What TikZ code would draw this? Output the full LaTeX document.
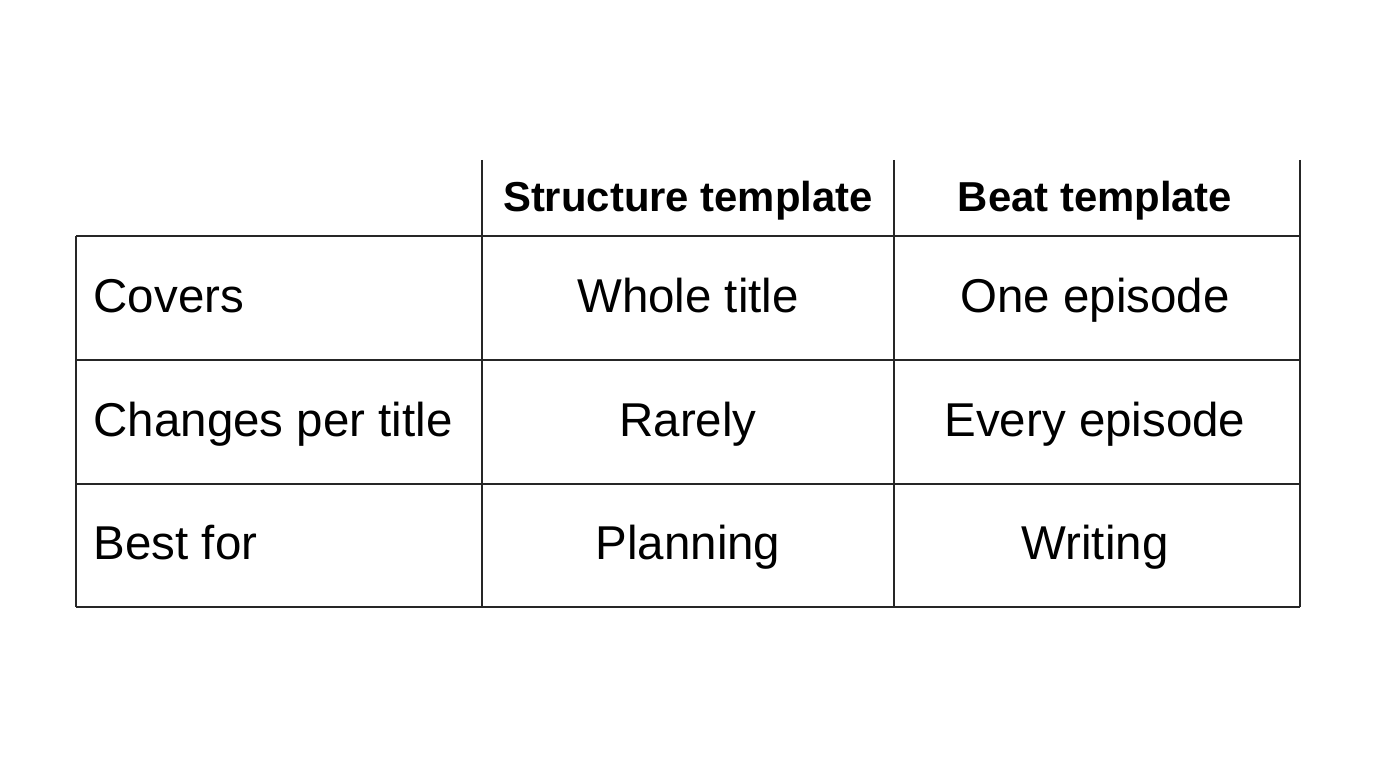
\documentclass[tikz,border=0pt]{standalone}
\usepackage{fontspec}
\setmainfont{Liberation Sans}
\usetikzlibrary{positioning}
\tikzset{
    grid/.style={draw=black!85, line width=0.5pt},
    head/.style={font=\fontsize{11.9}{14}\selectfont\bfseries, anchor=base},
    cell/.style={font=\fontsize{13.5}{16}\selectfont, anchor=base},
    rowhead/.style={font=\fontsize{13.5}{16}\selectfont, anchor=base west, inner sep=0pt},
}
\begin{document}
\begin{tikzpicture}[x=0.01cm, y=-0.01cm]
    \useasboundingbox (0,0) rectangle (1376,768);

    % grid
    \draw[grid] (76,236) -- (1300,236);
    \draw[grid] (76,360) -- (1300,360);
    \draw[grid] (76,484) -- (1300,484);
    \draw[grid] (76,607) -- (1300,607);
    \draw[grid] (76,236) -- (76,607);
    \draw[grid] (482,160) -- (482,607);
    \draw[grid] (894,160) -- (894,607);
    \draw[grid] (1300,160) -- (1300,607);

    % header
    \node[head] (HS) at (688,212)  {Structure template};
    \node[head] (HB) at (1095,212) {Beat template};

    % rows
    \node[rowhead] (R1) at (93,313) {Covers};
    \node[rowhead] (R2) at (93,437) {Changes per title};
    \node[rowhead] (R3) at (93,560) {Best for};

    \node[cell] (S1) at (688,313)  {Whole title};
    \node[cell] (B1) at (1095,313) {One episode};
    \node[cell] (S2) at (688,437)  {Rarely};
    \node[cell] (B2) at (1095,437) {Every episode};
    \node[cell] (S3) at (688,560)  {Planning};
    \node[cell] (B3) at (1095,560) {Writing};
\end{tikzpicture}
\end{document}
